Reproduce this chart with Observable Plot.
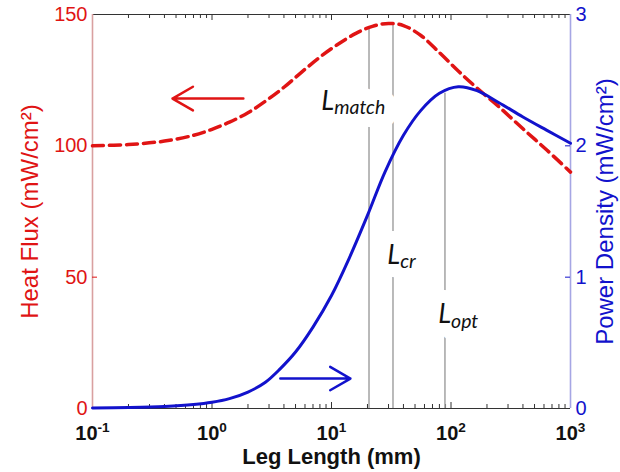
<!DOCTYPE html>
<html>
<head>
<meta charset="utf-8">
<script src="https://cdn.jsdelivr.net/npm/d3@7"></script>
<script src="https://cdn.jsdelivr.net/npm/@observablehq/plot@0.6"></script>
<style>
html,body{margin:0;padding:0;background:#fff;}
</style>
</head>
<body>
<div id="chart"></div>
<script>
// Heat flux (left axis, mW/cm²) vs leg length (mm)
const heatX = [0.1, 0.2, 0.4, 0.7, 1, 1.4, 2, 2.8, 4, 5.6, 8, 11, 16, 22, 30, 40, 56, 80, 115, 165, 250, 400, 630, 1000];
const heatY = [100, 100.5, 101.8, 104, 106.3, 109, 112.6, 117, 122.3, 128, 133.8, 138.3, 142.8, 145.5, 146.6, 145.8, 142, 135.5, 128.5, 122, 115, 106.5, 98.5, 90];

// Power density (right axis, mW/cm²) vs leg length (mm)
const powerX = [0.1, 0.2, 0.4, 0.7, 1, 1.4, 2, 2.8, 3.7, 5, 7, 10, 14, 20, 28, 40, 56, 80, 115, 165, 250, 400, 630, 1000];
const powerY = [0.004, 0.008, 0.016, 0.03, 0.047, 0.075, 0.125, 0.2, 0.3, 0.43, 0.62, 0.86, 1.14, 1.47, 1.8, 2.08, 2.27, 2.4, 2.45, 2.42, 2.33, 2.22, 2.12, 2.02];

// Characteristic leg lengths
const markerNames = ["match", "cr", "opt"];
const markerX = [20.6, 32.7, 89];
const markerTop = [145, 146.5, 120];   // heat-flux units where each line ends
const labelX = [8.22, 29.3, 78.2];
const labelY = [113.8, 55.2, 32.4];

// Arrows pointing to each curve's axis
const arrowFrom = [1.83, 3.73];
const arrowTo = [0.467, 14.4];
const arrowLevel = [118, 0.228];       // heat flux, power density
const arrowSeries = ["heat", "power"];

// Ticks
const decades = [0.1, 1, 10, 100, 1000];
const decadeExp = ["-1", "0", "1", "2", "3"];
const heatTicks = [0, 50, 100, 150];
const powerTicks = [0, 1, 2, 3];

const RED = "#e01414";
const BLUE = "#1212cc";
const W = 620, H = 472, mL = 92, mR = 50, mT = 14, mB = 64;
const fw = W - mL - mR, fh = H - mT - mB;
const k = 150 / 3;

const heat = heatX.map((x, i) => ({x, y: heatY[i]}));
const power = powerX.map((x, i) => ({x, y: powerY[i] * k}));
const minor = decades.slice(0, -1).flatMap(d => [2, 3, 4, 5, 6, 7, 8, 9].map(m => m * d));
const markers = markerX.map((x, i) => ({x, top: markerTop[i], name: markerNames[i], lx: labelX[i], ly: labelY[i]}));
const arrows = arrowFrom.map((x1, i) => ({
  x1, x2: arrowTo[i],
  y: arrowSeries[i] === "heat" ? arrowLevel[i] : arrowLevel[i] * k,
  color: arrowSeries[i] === "heat" ? RED : BLUE
}));

const labelOpts = {x: "lx", y: "ly", text: d => "L_" + d.name, textAnchor: "start", lineAnchor: "bottom",
  fontFamily: "Lato, 'Open Sans', sans-serif", fontStyle: "italic", fontSize: 27};

const plot = Plot.plot({
  width: W, height: H,
  marginLeft: mL, marginRight: mR, marginTop: mT, marginBottom: mB,
  style: {fontFamily: "'Liberation Sans', Arial, sans-serif", background: "#fff", overflow: "visible"},
  x: {type: "log", domain: [0.1, 1000]},
  y: {domain: [0, 150]},
  marks: [
    // frame
    Plot.ruleY([0, 150], {stroke: "#333", strokeWidth: 1.2}),
    Plot.ruleX([0.1], {stroke: "#d9a0a0", strokeWidth: 1.6}),
    Plot.ruleX([1000], {stroke: "#a6a6e4", strokeWidth: 1.6}),
    // inward ticks
    Plot.ruleX(minor, {insetTop: fh - 4, stroke: "#333"}),
    Plot.ruleX(minor, {insetBottom: fh - 4, stroke: "#333"}),
    Plot.ruleX(decades.slice(1, -1), {insetTop: fh - 6, stroke: "#333"}),
    Plot.ruleX(decades.slice(1, -1), {insetBottom: fh - 6, stroke: "#333"}),
    Plot.ruleY(heatTicks.slice(1, -1), {insetRight: fw - 5, stroke: RED}),
    Plot.ruleY(powerTicks.slice(1, -1).map(p => p * k), {insetLeft: fw - 5, stroke: BLUE}),
    // axes
    Plot.axisX({ticks: decades, tickFormat: d => "10^" + decadeExp[decades.indexOf(d)], tickSize: 0, tickPadding: 17,
      fontSize: 20, fontWeight: "bold", color: "#111", label: null}),
    Plot.axisY({ticks: heatTicks, tickSize: 0, tickPadding: 5, fontSize: 20, color: RED, label: null}),
    Plot.axisY({anchor: "right", ticks: powerTicks.map(p => p * k), tickFormat: d => String(d / k),
      tickSize: 0, tickPadding: 5, fontSize: 20, color: BLUE, label: null}),
    // titles
    Plot.text([0], {frameAnchor: "left", text: () => "Heat Flux (mW/cm²)", rotate: -90, dx: -62,
      textAnchor: "middle", lineAnchor: "middle", fill: RED, fontSize: 24}),
    Plot.text([0], {frameAnchor: "right", text: () => "Power Density (mW/cm²)", rotate: -90, dx: 35,
      textAnchor: "middle", lineAnchor: "middle", fill: BLUE, fontSize: 24}),
    Plot.text([0], {frameAnchor: "bottom", text: () => "Leg Length (mm)", dy: 55, lineAnchor: "bottom",
      textAnchor: "middle", fontWeight: "bold", fontSize: 22, fill: "#111"}),
    // characteristic lengths
    Plot.ruleX(markers, {x: "x", y1: 0, y2: "top", stroke: "#a3a3a3", strokeWidth: 1.5}),
    Plot.text(markers, {...labelOpts, fill: "white", stroke: "white", strokeWidth: 26, strokeLinejoin: "round"}),
    Plot.text(markers, {...labelOpts, fill: "#111"}),
    // curves
    Plot.line(heat, {x: "x", y: "y", stroke: RED, strokeWidth: 3.5, strokeDasharray: "11,6", curve: "catmull-rom"}),
    Plot.line(power, {x: "x", y: "y", stroke: BLUE, strokeWidth: 3, curve: "catmull-rom"}),
    // arrows
    Plot.arrow(arrows, {x1: "x1", x2: "x2", y1: "y", y2: "y", stroke: "color", strokeWidth: 2.5, headLength: 15, headAngle: 60})
  ]
});

d3.select(plot).selectAll("text").each(function () {
  const t = this.textContent;
  if (t.startsWith("10^")) {
    this.textContent = "10";
    d3.select(this).append("tspan").attr("dy", "-0.6em").attr("font-size", "0.68em").text(t.slice(3));
  } else if (t.startsWith("L_")) {
    this.textContent = "L";
    d3.select(this).append("tspan").attr("dy", "0.22em").attr("font-size", "0.72em").text(t.slice(2));
  }
});

document.getElementById("chart").appendChild(plot);
</script>
</body>
</html>
